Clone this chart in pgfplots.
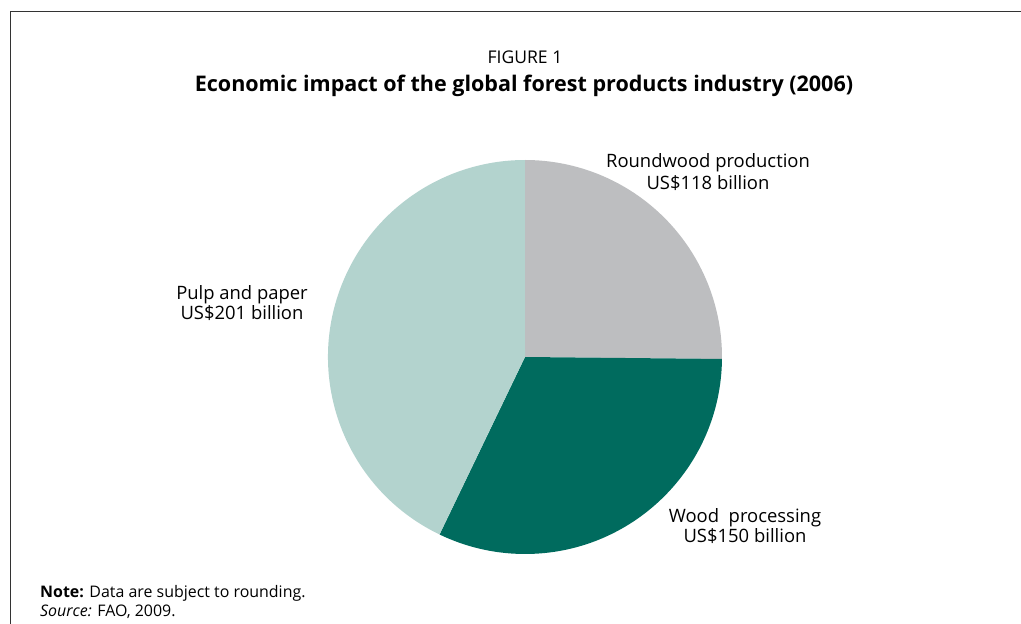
\documentclass[border=0pt]{standalone}
\usepackage{pgfplots}
\pgfplotsset{compat=1.18}
\usepackage{pgfplotstable}
\usepackage{fontspec}
\setmainfont{Open Sans}
\definecolor{cRound}{HTML}{BDBEC0}
\definecolor{cWood}{HTML}{006B5E}
\definecolor{cPulp}{HTML}{B3D3CE}
\definecolor{frame}{HTML}{333333}
\pgfplotstableread{
name value
Roundwood 118
Wood 150
Pulp 201
}\piedata
\pgfplotstablegetelem{0}{value}\of\piedata \let\vA\pgfplotsretval
\pgfplotstablegetelem{1}{value}\of\piedata \let\vB\pgfplotsretval
\pgfplotstablegetelem{2}{value}\of\piedata \let\vC\pgfplotsretval
\pgfmathsetmacro{\tot}{\vA+\vB+\vC}
\pgfmathsetmacro{\aA}{90}
\pgfmathsetmacro{\aB}{\aA-360*(\vA/\tot)}
\pgfmathsetmacro{\aC}{\aB-360*(\vB/\tot)}
\pgfmathsetmacro{\aD}{\aC-360*(\vC/\tot)}
\begin{document}
\begin{tikzpicture}
\begin{axis}[
  x=1bp, y=1bp, xmin=0, xmax=1021, ymin=0, ymax=624,
  hide axis, clip=false, scale only axis,
]
\fill[cRound] (axis cs:525,267) -- ++(\aA:197bp) arc[start angle=\aA, end angle=\aB, radius=197bp] -- cycle;
\fill[cWood] (axis cs:525,267) -- ++(\aB:197bp) arc[start angle=\aB, end angle=\aC, radius=197bp] -- cycle;
\fill[cPulp] (axis cs:525,267) -- ++(\aC:197bp) arc[start angle=\aC, end angle=\aD, radius=197bp] -- cycle;
\draw[frame, line width=1.6bp] (axis cs:10.5,0) -- (axis cs:10.5,612.5) -- (axis cs:1021,612.5);
\node[font=\fontsize{17.6}{20}\selectfont] at (axis cs:525,567) {FIGURE 1};
\node[font=\fontsize{21.6}{24}\selectfont\bfseries] at (axis cs:524,538) {Economic impact of the global forest products industry (2006)};
\node[font=\fontsize{18.5}{22}\selectfont, align=center] at (axis cs:708,452) {Roundwood production\\US\$118 billion};
\node[font=\fontsize{18.5}{21}\selectfont, align=center] at (axis cs:242,321) {Pulp and paper\\US\$201 billion};
\node[font=\fontsize{18.5}{21}\selectfont, align=center] at (axis cs:745,98) {Wood\ \ processing\\US\$150 billion};
\node[font=\fontsize{16}{20}\selectfont, align=left, anchor=west, inner sep=0pt] at (axis cs:40,22) {\textbf{Note:} Data are subject to rounding.\\\textit{Source:} FAO, 2009.};
\end{axis}
\pgfresetboundingbox
\path (0,0) rectangle (1021bp,624bp);
\end{tikzpicture}
\end{document}
